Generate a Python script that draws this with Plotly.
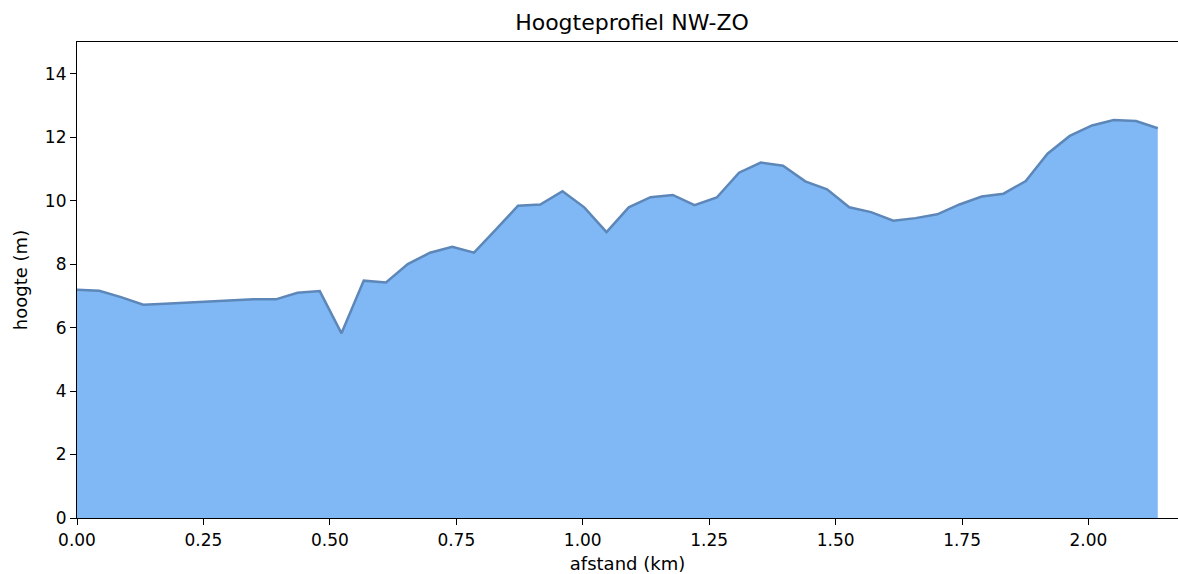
import plotly.graph_objects as go

afstand_km = [0.000, 0.044, 0.087, 0.131, 0.174, 0.218, 0.262, 0.305, 0.349, 0.393,
              0.436, 0.480, 0.523, 0.567, 0.611, 0.654, 0.698, 0.742, 0.785, 0.829,
              0.872, 0.916, 0.960, 1.003, 1.047, 1.091, 1.134, 1.178, 1.221, 1.265,
              1.309, 1.352, 1.396, 1.440, 1.483, 1.527, 1.570, 1.614, 1.658, 1.701,
              1.745, 1.789, 1.832, 1.876, 1.919, 1.963, 2.007, 2.050, 2.094, 2.137]
hoogte_m = [7.19, 7.16, 6.96, 6.72, 6.75, 6.79, 6.83, 6.85, 6.89, 6.89,
            7.10, 7.15, 5.82, 7.48, 7.42, 8.00, 8.36, 8.55, 8.36, 9.10,
            9.84, 9.88, 10.30, 9.79, 9.01, 9.79, 10.11, 10.18, 9.86, 10.10,
            10.88, 11.20, 11.10, 10.61, 10.36, 9.79, 9.64, 9.37, 9.45, 9.57,
            9.88, 10.13, 10.22, 10.62, 11.48, 12.04, 12.37, 12.54, 12.51, 12.28]

x_ticks = [0.0, 0.25, 0.5, 0.75, 1.0, 1.25, 1.5, 1.75, 2.0]
x_ticklabels = ["0.00", "0.25", "0.50", "0.75", "1.00", "1.25", "1.50", "1.75", "2.00"]
y_ticks = [0, 2, 4, 6, 8, 10, 12, 14]

fig = go.Figure()
fig.add_trace(go.Scatter(
    x=afstand_km, y=hoogte_m, mode="lines", fill="tozeroy",
    fillcolor="#80b8f5",
    line=dict(color="#5c87b8", width=2.5),
    hoverinfo="x+y", showlegend=False,
))

font = "DejaVu Sans"
fig.update_layout(
    width=1178, height=574,
    margin=dict(l=77, r=0, t=42, b=56),
    paper_bgcolor="white", plot_bgcolor="white",
    font=dict(family=font, size=17, color="#000000"),
    title=dict(text="Hoogteprofiel NW-ZO", x=632/1178, xanchor="center",
               y=1 - 22/574, yanchor="middle",
               font=dict(family=font, size=22, color="#000000")),
    xaxis=dict(
        range=[0, 2.177], tickmode="array", tickvals=x_ticks, ticktext=x_ticklabels,
        showgrid=False, zeroline=False, showline=True, linecolor="#000000", linewidth=1.2,
        mirror=True, ticks="outside", ticklen=6, tickwidth=1.2, tickcolor="#000000",
        tickfont=dict(family=font, size=17),
        title=dict(text="afstand (km)", font=dict(family=font, size=18), standoff=9),
    ),
    yaxis=dict(
        range=[0, 15], tickmode="array", tickvals=y_ticks,
        showgrid=False, zeroline=False, showline=True, linecolor="#000000", linewidth=1.2,
        mirror=False, ticks="outside", ticklen=6, tickwidth=1.2, tickcolor="#000000",
        tickfont=dict(family=font, size=17),
        title=dict(text="hoogte (m)", font=dict(family=font, size=18), standoff=12),
    ),
)

fig.write_html(
    "out.html",
    config={"displayModeBar": False},
    post_script="document.body.style.margin='0';document.body.style.overflow='hidden';",
)
